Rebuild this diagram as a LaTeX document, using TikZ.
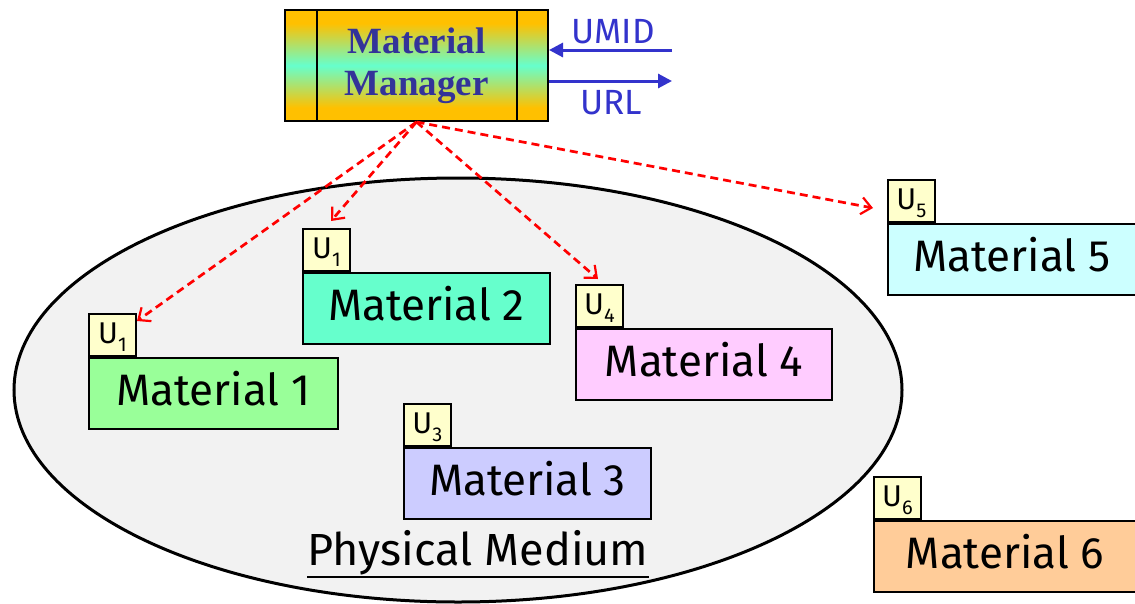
\documentclass[tikz,border=0pt]{standalone}
\usepackage{fontspec}
\setmainfont{Fira Sans}
\newfontfamily\mgrfont{Liberation Serif}
\usetikzlibrary{arrows.meta}
\definecolor{medgray}{HTML}{F2F2F2}
\definecolor{mone}{HTML}{99FF99}
\definecolor{mtwo}{HTML}{66FFCC}
\definecolor{mthree}{HTML}{CCCCFF}
\definecolor{mfour}{HTML}{FFCCFF}
\definecolor{mfive}{HTML}{CCFFFF}
\definecolor{msix}{HTML}{FFCC99}
\definecolor{tagcol}{HTML}{FFFFCC}
\definecolor{mgrorange}{HTML}{FFC000}
\definecolor{mgraqua}{HTML}{66FFCC}
\definecolor{mgrtext}{HTML}{333399}
\definecolor{iolabel}{HTML}{3333CC}
\pgfdeclareverticalshading{mgrshade}{100bp}{color(0bp)=(mgrorange); color(25bp)=(mgrorange); color(31bp)=(mgrorange); color(50bp)=(mgraqua); color(69bp)=(mgrorange); color(75bp)=(mgrorange); color(100bp)=(mgrorange)}
\newcommand{\utag}[1]{U\raisebox{-0.25em}{\fontsize{20}{20}\selectfont #1}}
\tikzset{
  matbox/.style={draw, line width=1.8pt, minimum width=249pt, minimum height=71pt, anchor=north west, inner sep=0pt, text depth=10pt, font=\fontsize{44}{46}\selectfont},
  tagbox/.style={draw, line width=1.8pt, fill=tagcol, minimum width=47pt, minimum height=42pt, anchor=south west, inner sep=0pt, text depth=3pt, font=\fontsize{30}{30}\selectfont},
  reflink/.style={draw=red, line width=2.7pt, dash pattern=on 8pt off 5pt, -{Straight Barb[length=10pt,width=17pt,line width=2.2pt]}},
  ioarrow/.style={draw=iolabel, line width=3pt, -{Triangle[length=14pt,width=14pt]}},
  iotext/.style={text=iolabel, font=\fontsize{35}{36}\selectfont, inner sep=0pt}
}
\begin{document}
\begin{tikzpicture}[x=1pt,y=-1pt]
\useasboundingbox (0,0) rectangle (1135,603);
\fill[white] (0,0) rectangle (1135,603);
% physical medium
\draw[line width=3pt, fill=medgray] (458,390) ellipse [x radius=444pt, y radius=212pt];
\node[font=\fontsize{45}{46}\selectfont, inner sep=0pt, anchor=base] (pm) at (478,565) {Physical Medium};
\draw[line width=2.8pt] ([yshift=-12pt]pm.base west) -- ([yshift=-12pt]pm.base east);
% manager
\node[draw, line width=2pt, minimum width=263pt, minimum height=111pt, inner sep=0pt,
      shading=mgrshade,
      text=mgrtext, align=center, font=\mgrfont\bfseries\fontsize{37}{42}\selectfont] (mm) at (416.5,65.5) {Material\\Manager};
\draw[line width=2pt] ([xshift=33pt]mm.north west) -- ([xshift=33pt]mm.south west);
\draw[line width=2pt] ([xshift=-32pt]mm.north east) -- ([xshift=-32pt]mm.south east);
\coordinate (umidend) at (672,50);
\coordinate (urlend) at (672,81);
\draw[ioarrow] (umidend) -- (umidend -| mm.east);
\draw[ioarrow] (urlend -| mm.east) -- (urlend);
\node[iotext] (umid) at (613,32) {UMID};
\node[iotext] (url) at (611,103) {URL};
% materials
\node[matbox, fill=mone] (m1) at (88,357) {Material 1};
\node[tagbox] (u1) at (m1.north west) {\utag{1}};
\node[matbox, fill=mtwo, minimum width=247pt] (m2) at (302,272) {Material 2};
\node[tagbox] (u2) at (m2.north west) {\utag{1}};
\node[matbox, fill=mthree, minimum width=247pt] (m3) at (403,447) {Material 3};
\node[tagbox] (u3) at (m3.north west) {\utag{3}};
\node[matbox, fill=mfour, minimum width=256pt] (m4) at (575,328) {Material 4};
\node[tagbox] (u4) at (m4.north west) {\utag{4}};
\node[matbox, fill=mfive, minimum width=248pt] (m5) at (887,223) {Material 5};
\node[tagbox] (u5) at (m5.north west) {\utag{5}};
\node[matbox, fill=msix, minimum width=262pt, minimum height=71pt] (m6) at (873,520) {Material 6};
\node[tagbox] (u6) at (m6.north west) {\utag{6}};
% references
\coordinate (a1) at (137,321);
\coordinate (a2) at (331,221);
\coordinate (a4) at (598,279);
\coordinate (a5) at (873,208);
\draw[reflink] (mm.south) -- (a1);
\draw[reflink] (mm.south) -- (a2);
\draw[reflink] (mm.south) -- (a4);
\draw[reflink] (mm.south) -- (a5);
\end{tikzpicture}
\end{document}
